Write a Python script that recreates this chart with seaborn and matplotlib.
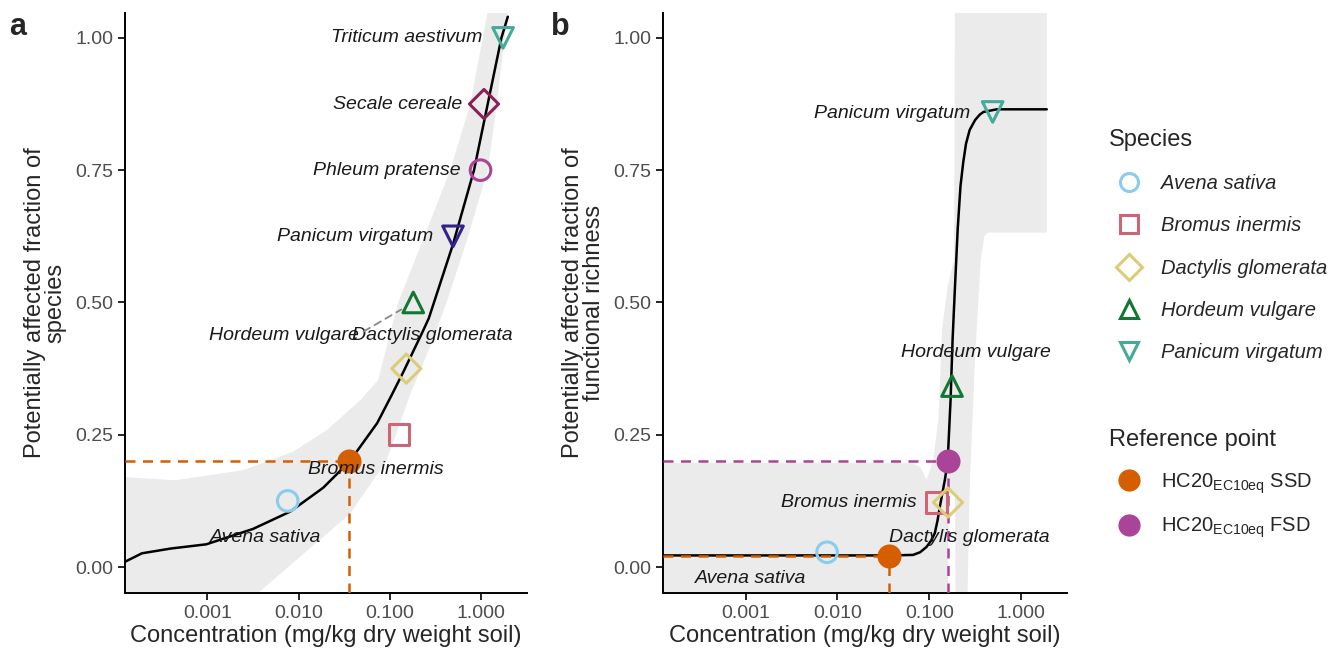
import matplotlib
matplotlib.use("Agg")
import matplotlib.pyplot as plt
from matplotlib.lines import Line2D
import seaborn as sns
import pandas as pd
import numpy as np

# ---- species points (panel a: SSD, panel b: FSD) ----
species_a = ["Avena sativa", "Bromus inermis", "Dactylis glomerata", "Hordeum vulgare",
             "Panicum virgatum", "Phleum pratense", "Secale cereale", "Triticum aestivum"]
conc_a = [0.0076, 0.126, 0.151, 0.18, 0.49, 0.98, 1.07, 1.73]
frac_a = [0.125, 0.25, 0.375, 0.5, 0.625, 0.75, 0.875, 1.0]

species_b = ["Avena sativa", "Bromus inermis", "Dactylis glomerata", "Hordeum vulgare",
             "Panicum virgatum"]
conc_b = [0.0077, 0.12, 0.16, 0.177, 0.49]
frac_b = [0.028, 0.122, 0.122, 0.342, 0.86]

# ---- fitted curves, log10(concentration) ----
curve_a_log = [-3.90, -3.715, -3.40, -3.01, -2.50, -2.09, -1.73, -1.44, -1.14, -0.99,
               -0.85, -0.65, -0.575, -0.31, -0.08, 0.07, 0.22, 0.29]
curve_a = [0.010, 0.026, 0.035, 0.043, 0.072, 0.105, 0.150, 0.200, 0.272, 0.322,
           0.370, 0.442, 0.47, 0.61, 0.75, 0.875, 1.0, 1.04]

curve_b_log = [-3.90, -1.44, -1.176, -1.10, -1.03, -0.98, -0.94, -0.91, -0.885, -0.83,
               -0.80, -0.768, -0.746, -0.72, -0.69, -0.66, -0.63, -0.60, -0.56, -0.50,
               -0.45, -0.41, -0.266, 0.28]
curve_b = [0.022, 0.022, 0.023, 0.028, 0.038, 0.050, 0.064, 0.088, 0.114, 0.165,
           0.199, 0.316, 0.43, 0.53, 0.64, 0.72, 0.765, 0.80, 0.826, 0.845,
           0.855, 0.860, 0.865, 0.865]

# ---- confidence bands ----
upper_a_log = [-3.90, -3.35, -2.61, -2.06, -1.69, -1.32, -1.13, -0.91, -0.63, -0.34, -0.12, 0.07, 0.29]
upper_a = [0.170, 0.164, 0.183, 0.218, 0.259, 0.316, 0.353, 0.50, 0.622, 0.75, 0.875, 1.05, 1.3]
lower_a_log = [-3.90, -2.45, -1.94, -1.44, -1.04, -0.77, -0.575, -0.38, -0.15, 0.07, 0.17, 0.29]
lower_a = [-0.25, -0.05, 0.026, 0.10, 0.20, 0.33, 0.41, 0.50, 0.622, 0.75, 0.875, 1.05]

upper_b_log = [-3.90, -1.20, -1.10, -1.03, -0.96, -0.90, -0.86, -0.80, -0.73, -0.715, 0.28]
upper_b = [0.197, 0.197, 0.19, 0.165, 0.20, 0.28, 0.45, 0.53, 0.58, 1.3, 1.3]
lower_b_log = [-3.90, -0.80, -0.79, -0.72, -0.71, -0.60, -0.56, -0.50, -0.44, -0.40, -0.36, 0.28]
lower_b = [-0.2, -0.2, 0.14, 0.14, -0.2, -0.2, 0.15, 0.40, 0.58, 0.625, 0.632, 0.632]

# ---- HC20 reference points (conc, fraction) ----
ssd_a = [0.036, 0.2]
ssd_b = [0.036, 0.021]
fsd_b = [0.159, 0.2]

c_ssd = "#D55E00"
c_fsd = "#AA4499"
pal_a = {"Avena sativa": "#88CCEE", "Bromus inermis": "#CC6677", "Dactylis glomerata": "#DDCC77",
         "Hordeum vulgare": "#117733", "Panicum virgatum": "#332288", "Phleum pratense": "#AA4499",
         "Secale cereale": "#882255", "Triticum aestivum": "#44AA99"}
mk_a = {"Avena sativa": "o", "Bromus inermis": "s", "Dactylis glomerata": "D",
        "Hordeum vulgare": "^", "Panicum virgatum": "v", "Phleum pratense": "o",
        "Secale cereale": "D", "Triticum aestivum": "v"}
pal_b = {k: pal_a[k] for k in species_b}
pal_b["Panicum virgatum"] = "#44AA99"
mk_b = {k: mk_a[k] for k in species_b}

# label offsets in points (dx, dy, ha)
lab_a = {"Avena sativa": (-16, -26, "center"), "Bromus inermis": (-17, -25, "center"),
         "Dactylis glomerata": (-39, 24, "left"), "Hordeum vulgare": (-39, -24, "right"),
         "Panicum virgatum": (-14, 0, "right"), "Phleum pratense": (-14, 0, "right"),
         "Secale cereale": (-16, 0, "right"), "Triticum aestivum": (-15, 0, "right")}
lab_b = {"Avena sativa": (-55, -19, "center"), "Bromus inermis": (-14, 0, "right"),
         "Dactylis glomerata": (15, -25, "center"), "Hordeum vulgare": (17, 24, "center"),
         "Panicum virgatum": (-16, -1, "right")}

sns.set_style("ticks")
plt.rcParams["font.family"] = ["Liberation Sans", "DejaVu Sans"]

XLIM = (10 ** -3.9, 10 ** 0.5)
YLIM = (-0.049, 1.047)


def draw_panel(ax, sp, conc, frac, pal, mk, cx, cy, ux, uy, lx, ly, refs, labs, ylab):
    ax.set_xscale("log")
    # band
    bx = 10 ** np.r_[ux, lx[::-1]]
    by = np.r_[uy, ly[::-1]]
    ax.fill(bx, by, color="#ebebeb", lw=0, zorder=0)
    # curve
    sns.lineplot(x=10 ** np.array(cx), y=cy, color="black", lw=1.8,
                 estimator=None, sort=False, ax=ax, zorder=2)
    # reference lines + points
    for (rx, ry), col in refs:
        ax.plot([XLIM[0], rx], [ry, ry], color=col, lw=1.8, ls=(0, (4, 3)), zorder=3)
        ax.plot([rx, rx], [YLIM[0], ry], color=col, lw=1.8, ls=(0, (4, 3)), zorder=3)
    # species points, open markers
    df = pd.DataFrame({"species": sp, "conc": conc, "frac": frac})
    sns.scatterplot(data=df, x="conc", y="frac", hue="species", style="species",
                    palette=pal, markers=mk, s=220, legend=False, ax=ax, zorder=4)
    coll = ax.collections[-1]
    fc = coll.get_facecolors()
    coll.set_facecolors("none")
    coll.set_edgecolors(fc)
    coll.set_linewidths(2.2)
    for (rx, ry), col in refs:
        sns.scatterplot(x=[rx], y=[ry], color=col, s=300, linewidth=0, ax=ax, zorder=5)
    # labels
    for name, x, y in zip(sp, conc, frac):
        dx, dy, ha = labs[name]
        kw = {}
        if name == "Hordeum vulgare" and ha == "right":
            kw["arrowprops"] = dict(arrowstyle="-", color="#888888", lw=1.3, ls=(0, (4, 3)),
                                    shrinkA=1, shrinkB=10, relpos=(1.0, 0.6))
        ax.annotate(name, xy=(x, y), xytext=(dx, dy), textcoords="offset points",
                    ha=ha, va="center", fontsize=14, fontstyle="italic", color="#1a1a1a",
                    zorder=6, **kw)
    ax.set_xlim(*XLIM)
    ax.set_ylim(*YLIM)
    ax.set_xticks([0.001, 0.01, 0.1, 1])
    ax.set_xticklabels(["0.001", "0.010", "0.100", "1.000"])
    ax.xaxis.set_minor_locator(matplotlib.ticker.NullLocator())
    ax.set_yticks([0, 0.25, 0.5, 0.75, 1.0])
    ax.set_yticklabels(["0.00", "0.25", "0.50", "0.75", "1.00"])
    ax.tick_params(labelsize=14, labelcolor="#4d4d4d", length=5, width=1.2, color="black")
    for s in ["left", "bottom"]:
        ax.spines[s].set_linewidth(1.4)
        ax.spines[s].set_color("black")
    sns.despine(ax=ax)
    ax.set_xlabel("Concentration (mg/kg dry weight soil)", fontsize=17, labelpad=2)
    ax.set_ylabel(ylab, fontsize=17, labelpad=6, linespacing=0.95)


fig = plt.figure(figsize=(13.43, 6.53), dpi=100)
ax_a = fig.add_axes([125 / 1343, 60 / 653, 402 / 1343, 580 / 653])
ax_b = fig.add_axes([663 / 1343, 60 / 653, 404 / 1343, 580 / 653])

draw_panel(ax_a, species_a, conc_a, frac_a, pal_a, mk_a, curve_a_log, curve_a,
           np.array(upper_a_log), upper_a, np.array(lower_a_log), lower_a,
           [(ssd_a, c_ssd)], lab_a, "Potentially affected fraction of\nspecies")
draw_panel(ax_b, species_b, conc_b, frac_b, pal_b, mk_b, curve_b_log, curve_b,
           np.array(upper_b_log), upper_b, np.array(lower_b_log), lower_b,
           [(ssd_b, c_ssd), (fsd_b, c_fsd)], lab_b,
           "Potentially affected fraction of\nfunctional richness")

fig.text(18 / 1343, 1 - 27 / 653, "a", fontsize=22, fontweight="bold", ha="center", va="center")
fig.text(560 / 1343, 1 - 27 / 653, "b", fontsize=22, fontweight="bold", ha="center", va="center")

# legends
sp_handles = [Line2D([], [], ls="", marker=mk_b[k], mfc="none", mec=pal_b[k], mew=2.2,
                     ms=13) for k in species_b]
leg1 = fig.legend(sp_handles, species_b, title="Species", loc="upper left",
                  bbox_to_anchor=(1091 / 1343, 1 - 111 / 653), frameon=False,
                  title_fontsize=17, alignment="left", labelspacing=1.15,
                  handletextpad=0.6, prop={"style": "italic", "size": 14.5})
ref_handles = [Line2D([], [], ls="", marker="o", mfc=c, mec=c, ms=15) for c in (c_ssd, c_fsd)]
ref_labels = [r"HC20$_{\mathregular{EC10eq}}$ SSD", r"HC20$_{\mathregular{EC10eq}}$ FSD"]
leg2 = fig.legend(ref_handles, ref_labels, title="Reference point", loc="upper left",
                  bbox_to_anchor=(1091 / 1343, 1 - 411 / 653), frameon=False,
                  fontsize=14.5, title_fontsize=17, alignment="left", labelspacing=1.0,
                  handletextpad=0.6)

fig.savefig("out.png", dpi=100)
